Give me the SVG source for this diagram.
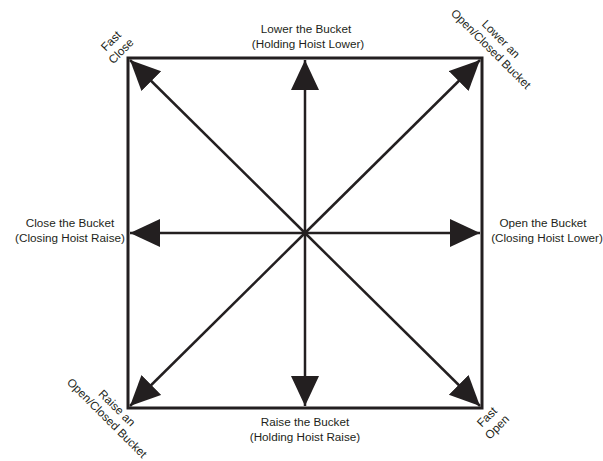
<svg xmlns="http://www.w3.org/2000/svg" width="603" height="461" viewBox="0 0 603 461">
<style>
text{font-family:"Liberation Sans",Arial,sans-serif;font-size:11.7px;fill:#231f20;text-anchor:middle}
.box{fill:none;stroke:#231f20;stroke-width:3}
.arr{stroke:#231f20;stroke-width:2.5;fill:none;marker-end:url(#ah)}
</style>
<defs>
<marker id="ah" markerUnits="userSpaceOnUse" markerWidth="32" markerHeight="30" refX="30" refY="14" orient="auto">
<path d="M0,0 L30,14 L0,28 Z" fill="#231f20"/>
</marker>
</defs>
<rect id="frame" class="box" x="128" y="58" width="354" height="350"/>
<g id="connectors">
<line class="arr" x1="305" y1="233" x2="305" y2="60"/>
<line class="arr" x1="305" y1="233" x2="305" y2="406"/>
<line class="arr" x1="305" y1="233" x2="130" y2="233"/>
<line class="arr" x1="305" y1="233" x2="480" y2="233"/>
<line class="arr" x1="305" y1="233" x2="130" y2="60"/>
<line class="arr" x1="305" y1="233" x2="480" y2="60"/>
<line class="arr" x1="305" y1="233" x2="130" y2="406"/>
<line class="arr" x1="305" y1="233" x2="480" y2="406"/>
</g>
<g id="top"><text x="306" y="33">Lower the Bucket</text><text x="308" y="48">(Holding Hoist Lower)</text></g>
<g id="bottom"><text x="305" y="426">Raise the Bucket</text><text x="305" y="441">(Holding Hoist Raise)</text></g>
<g id="left"><text x="70" y="227">Close the Bucket</text><text x="70" y="242">(Closing Hoist Raise)</text></g>
<g id="right"><text x="543" y="227">Open the Bucket</text><text x="547" y="242">(Closing Hoist Lower)</text></g>
<g id="topleft"><text transform="translate(111,41) rotate(-45)" y="4">Fast</text><text transform="translate(121,51) rotate(-45)" y="4">Close</text></g>
<g id="topright"><text transform="translate(501,39) rotate(45)" y="4">Lower an</text><text transform="translate(491,49) rotate(45)" y="4">Open/Closed Bucket</text></g>
<g id="bottomleft"><text transform="translate(117,408) rotate(45)" y="4">Raise an</text><text transform="translate(107,418) rotate(45)" y="4">Open/Closed Bucket</text></g>
<g id="bottomright"><text transform="translate(487,417) rotate(-45)" y="4">Fast</text><text transform="translate(497,427) rotate(-45)" y="4">Open</text></g>
</svg>
